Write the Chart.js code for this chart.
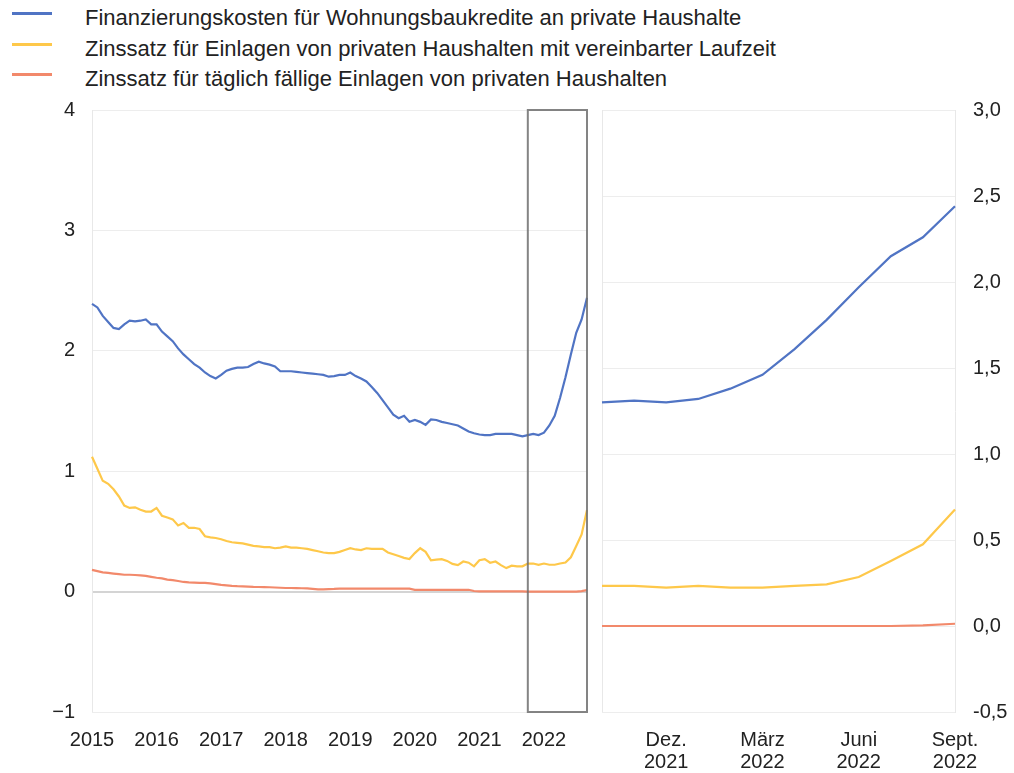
<!DOCTYPE html>
<html><head><meta charset="utf-8">
<script src="https://cdn.jsdelivr.net/npm/chart.js@4.4.0/dist/chart.umd.min.js"></script>
<style>
html,body{margin:0;padding:0;background:#fff;}
#wrap{position:relative;width:1014px;height:773px;overflow:hidden;font-family:"Liberation Sans",Arial,sans-serif;}
.item{position:absolute;left:0;white-space:nowrap;}
.swatch{position:absolute;left:12px;width:40px;height:3px;}
.label{position:absolute;left:85px;font-size:22px;color:#222;line-height:22px;}
#c1{position:absolute;left:0;top:0;}
#c2{position:absolute;left:595px;top:0;}
</style></head>
<body><div id="wrap"><div id="legend"></div>
<canvas id="c1" width="600" height="773"></canvas>
<canvas id="c2" width="419" height="773"></canvas></div>
<script>
// ---- data ----
const seriesNames = [
  'Finanzierungskosten für Wohnungsbaukredite an private Haushalte',
  'Zinssatz für Einlagen von privaten Haushalten mit vereinbarter Laufzeit',
  'Zinssatz für täglich fällige Einlagen von privaten Haushalten'
];
const housingLoanCost = [
  2.39,2.36,2.29,2.24,2.19,2.18,2.22,2.25,2.245,2.25,2.26,2.22,
  2.22,2.16,2.12,2.08,2.02,1.97,1.93,1.89,1.86,1.82,1.79,1.77,
  1.80,1.835,1.85,1.86,1.86,1.865,1.89,1.91,1.895,1.885,1.87,1.83,
  1.83,1.83,1.825,1.82,1.815,1.81,1.805,1.80,1.785,1.79,1.80,1.80,
  1.82,1.79,1.77,1.745,1.70,1.65,1.59,1.53,1.47,1.44,1.46,1.41,
  1.425,1.41,1.385,1.43,1.425,1.41,1.40,1.39,1.38,1.355,1.33,1.315,
  1.305,1.30,1.30,1.31,1.31,1.31,1.31,1.30,1.29,
  1.30,1.31,1.30,1.32,1.38,1.46,1.61,1.78,1.97,2.15,2.26,2.44
];
const termDepositRate = [
  1.12,1.02,0.92,0.895,0.85,0.79,0.715,0.695,0.70,0.68,0.665,0.665,
  0.695,0.63,0.615,0.60,0.55,0.57,0.53,0.53,0.52,0.46,0.45,0.445,
  0.435,0.42,0.41,0.405,0.40,0.39,0.38,0.375,0.37,0.37,0.36,0.365,
  0.375,0.365,0.365,0.36,0.355,0.345,0.335,0.325,0.32,0.32,0.33,0.345,
  0.36,0.35,0.345,0.36,0.355,0.355,0.355,0.325,0.31,0.295,0.28,0.27,
  0.32,0.36,0.33,0.26,0.265,0.27,0.255,0.23,0.22,0.25,0.24,0.21,
  0.26,0.27,0.24,0.25,0.22,0.195,0.215,0.21,0.21,
  0.233,0.233,0.223,0.233,0.223,0.223,0.233,0.242,0.285,0.378,0.475,0.678
];
const overnightDepositRate = [
  0.18,0.17,0.16,0.155,0.15,0.145,0.14,0.14,0.138,0.135,0.13,0.122,
  0.115,0.11,0.10,0.095,0.088,0.08,0.077,0.075,0.073,0.072,0.068,0.062,
  0.056,0.052,0.048,0.045,0.043,0.041,0.039,0.038,0.037,0.036,0.034,0.032,
  0.03,0.03,0.029,0.028,0.026,0.022,0.018,0.018,0.02,0.022,0.025,0.025,
  0.025,0.025,0.025,0.025,0.025,0.025,0.025,0.025,0.025,0.025,0.025,0.025,
  0.015,0.015,0.015,0.015,0.015,0.015,0.015,0.015,0.015,0.015,0.015,0.005,
  0.002,0.002,0.002,0.002,0.002,0.002,0.002,0.002,0.002,
  0.0,0.0,0.0,0.0,0.0,0.0,0.0,0.0,0.0,0.0,0.004,0.013
];
const firstYear = 2015;
const yearTickLabels = ['2015','2016','2017','2018','2019','2020','2021','2022'];
const zoomStart = 81; // Okt. 2021
const zoomTickIndex = [2,5,8,11];
const zoomTickLabels = [['Dez.','2021'],['März','2022'],['Juni','2022'],['Sept.','2022']];
const leftTicks = {min:-1,max:4,step:1};
const rightTicks = {min:-0.5,max:3.0,step:0.5};
const colors = ['#5074c4','#fec84a','#f2896b'];

// ---- category labels (months) ----
const months = housingLoanCost.map((_, i) => (firstYear + Math.floor(i/12)) + '-' + String(i%12+1).padStart(2,'0'));
const zoomMonths = months.slice(zoomStart);

// ---- legend ----
const legend = document.getElementById('legend');
const legendTop = [13, 44, 74];
seriesNames.forEach((n, i) => {
  const it = document.createElement('div');
  it.className = 'item';
  it.style.top = '0px';
  it.innerHTML = '<div class="swatch" style="top:'+(legendTop[i]-1.5)+'px;background:'+colors[i]+'"></div>' +
                 '<div class="label" style="top:'+(legendTop[i]-6)+'px">'+n+'</div>';
  legend.appendChild(it);
});

Chart.defaults.font.family = '"Liberation Sans", Arial, sans-serif';
Chart.defaults.color = '#222';
Chart.defaults.animation = false;

const FONT = {size: 20, lineHeight: 1.1};

function mkDatasets(sliceFrom) {
  const arrs = [housingLoanCost, termDepositRate, overnightDepositRate];
  return arrs.map((a, i) => ({
    label: seriesNames[i], data: a.slice(sliceFrom), borderColor: colors[i],
    borderWidth: 2.2, pointRadius: 0, tension: 0, fill: false
  })).reverse();
}

const highlightBox = {
  id: 'highlightBox',
  afterDatasetsDraw(chart) {
    const xs = chart.scales.x, ys = chart.scales.y, c = chart.ctx;
    const x0 = xs.getPixelForValue(zoomStart), x1 = xs.getPixelForValue(months.length - 1);
    const y0 = ys.getPixelForValue(ys.max), y1 = ys.getPixelForValue(ys.min);
    c.save();
    c.strokeStyle = 'rgba(110,110,110,0.85)';
    c.lineWidth = 2;
    c.strokeRect(x0, y0, x1 - x0, y1 - y0);
    c.restore();
  }
};
const leftFrame = {
  id: 'leftFrame',
  beforeDatasetsDraw(chart) {
    const a = chart.chartArea, c = chart.ctx;
    c.save(); c.strokeStyle = '#e8e8e8'; c.lineWidth = 1;
    c.beginPath(); c.moveTo(a.left + 0.5, a.top); c.lineTo(a.left + 0.5, a.bottom); c.stroke();
    c.restore();
  }
};

new Chart(document.getElementById('c1'), {
  type: 'line',
  data: {labels: months, datasets: mkDatasets(0)},
  options: {
    responsive: false,
    layout: {padding: {top: 110, right: 13, left: 0, bottom: 0}},
    plugins: {legend: {display: false}, tooltip: {enabled: false}},
    scales: {
      x: {
        grid: {display: false, drawTicks: false},
        border: {display: false},
        ticks: {
          autoSkip: false, maxRotation: 0, padding: 17, font: FONT,
          callback: (v, i) => (i % 12 === 0 ? yearTickLabels[i/12] : null)
        },
        afterFit: s => { s.height = 61; }
      },
      y: {
        min: leftTicks.min, max: leftTicks.max,
        grid: {drawTicks: false,
               color: c => c.tick && c.tick.value === 0 ? '#d4d4d4' : '#ededed',
               lineWidth: c => c.tick && c.tick.value === 0 ? 2 : 1},
        border: {display: false},
        ticks: {stepSize: leftTicks.step, padding: 17, font: FONT,
                callback: v => (v < 0 ? '\u2212' + Math.abs(v) : String(v))},
        afterFit: s => { s.width = 92; }
      }
    }
  },
  plugins: [leftFrame, highlightBox]
});

new Chart(document.getElementById('c2'), {
  type: 'line',
  data: {labels: zoomMonths, datasets: mkDatasets(zoomStart)},
  options: {
    responsive: false,
    layout: {padding: {top: 110, right: 0, left: 7, bottom: 0}},
    plugins: {legend: {display: false}, tooltip: {enabled: false}},
    scales: {
      x: {
        grid: {display: false, drawTicks: false},
        border: {display: false},
        ticks: {
          autoSkip: false, maxRotation: 0, padding: 17, font: FONT,
          callback: (v, i) => { const k = zoomTickIndex.indexOf(i); return k >= 0 ? zoomTickLabels[k] : null; }
        },
        afterFit: s => { s.height = 61; }
      },
      y: {
        position: 'right',
        min: rightTicks.min, max: rightTicks.max,
        grid: {drawTicks: false, color: '#ededed'},
        border: {display: true, color: '#e8e8e8'},
        ticks: {stepSize: rightTicks.step, padding: 18, font: FONT,
                callback: v => v.toFixed(1).replace('.', ',')},
        afterFit: s => { s.width = 59; }
      }
    }
  },
  plugins: [leftFrame]
});
</script>
</body></html>
